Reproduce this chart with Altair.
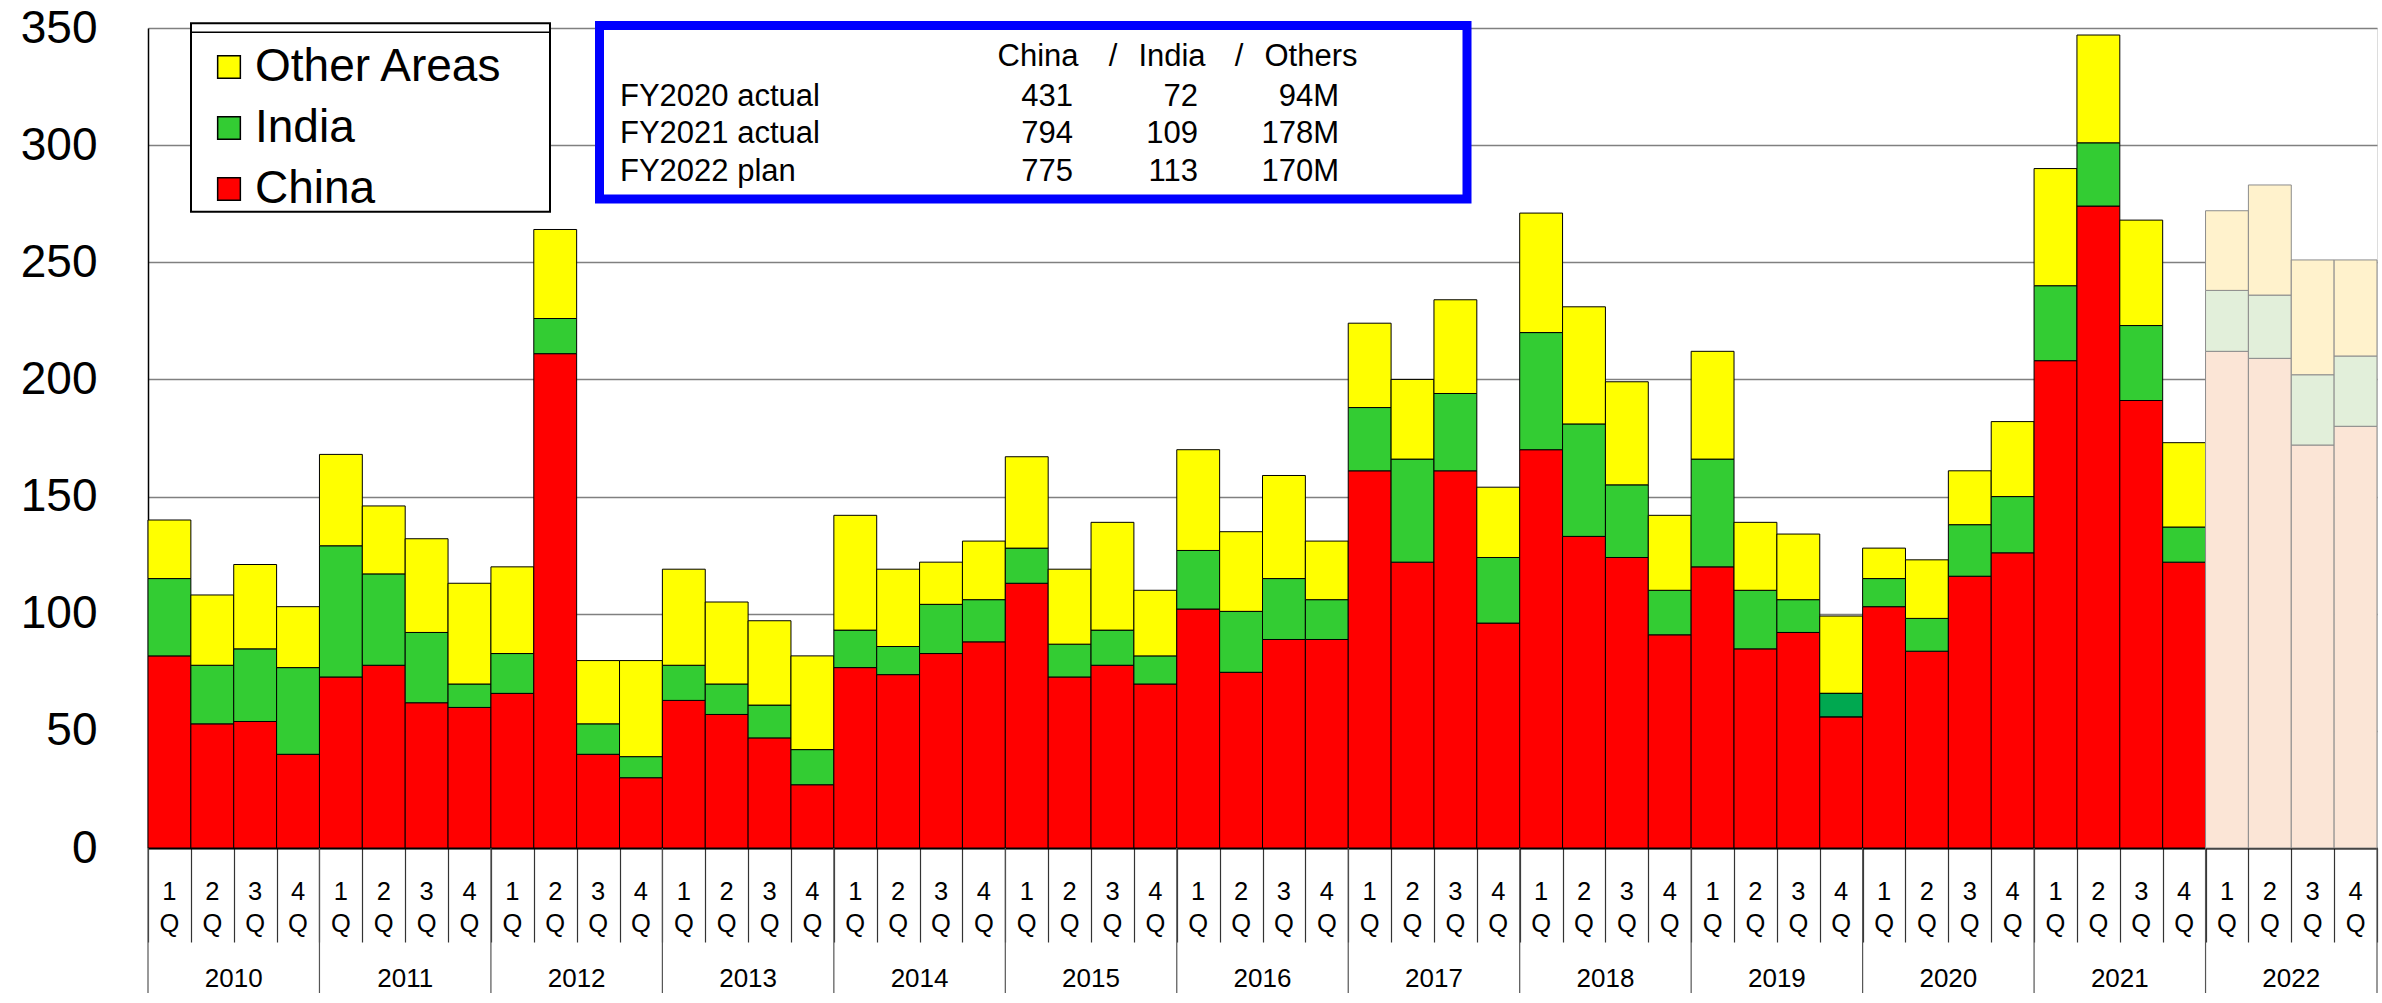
import altair as alt
import pandas as pd

# ---------------- data ----------------
years = [str(y) for y in range(2010, 2023)]
quarters = ["1", "2", "3", "4"]
series_order = ["China", "India", "Other Areas"]
legend_order = ["Other Areas", "India", "China"]

china = [82, 53, 54, 40, 73, 78, 62, 60, 66, 211, 40, 30, 63, 57, 47, 27,
         77, 74, 83, 88, 113, 73, 78, 70, 102, 75, 89, 89, 161, 122, 161, 96,
         170, 133, 124, 91, 120, 85, 92, 56, 103, 84, 116, 126, 208, 274, 191, 122,
         212, 209, 172, 180]
india = [33, 25, 31, 37, 56, 39, 30, 10, 17, 15, 13, 9, 15, 13, 14, 15,
         16, 12, 21, 18, 15, 14, 15, 12, 25, 26, 26, 17, 27, 44, 33, 28,
         50, 48, 31, 19, 46, 25, 14, 10, 12, 14, 22, 24, 32, 27, 32, 15,
         26, 27, 30, 30]
others = [25, 30, 36, 26, 39, 29, 40, 43, 37, 38, 27, 41, 41, 35, 36, 40,
          49, 33, 18, 25, 39, 32, 46, 28, 43, 34, 44, 25, 36, 34, 40, 30,
          51, 50, 44, 32, 46, 29, 28, 33, 13, 25, 23, 32, 50, 46, 45, 36,
          34, 47, 49, 41]

plan_year = "2022"
special_year, special_quarter, special_series = "2019", "4", "India"

table_header = ["China", "/", "India", "/", "Others"]
table_rows = ["FY2020 actual", "FY2021 actual", "FY2022 plan"]
table_china = ["431", "794", "775"]
table_india = ["72", "109", "113"]
table_others = ["94M", "178M", "170M"]

# ---------------- styles ----------------
FONT = "Liberation Sans"
actual_colors = {"China": "#FF0000", "India": "#33CC33", "Other Areas": "#FFFF00"}
plan_colors = {"China": "#FBE5D6", "India": "#E2EFDA", "Other Areas": "#FFF2CC"}
special_color = "#00A850"

W, H = 2229, 820
PAD_L, PAD_T, PAD_R, PAD_B = 148, 28, 5, 155

# ---------------- tables ----------------
rows = []
for k in range(len(china)):
    yr = years[k // 4]
    q = quarters[k % 4]
    base = 0
    for s, vals in zip(series_order, [china, india, others]):
        v = vals[k]
        rows.append(dict(i=k, i2=k + 1, y0=base, y1=base + v, series=s, year=yr, q=q,
                         plan=(yr == plan_year),
                         special=(yr == special_year and q == special_quarter and s == special_series),
                         fc=plan_colors[s] if yr == plan_year else actual_colors[s]))
        base += v
df = pd.DataFrame(rows)
df_actual = df[~df["plan"]]
df_plan = df[df["plan"]]
df_special = df[df["special"]]

df_q = pd.DataFrame({"c": [k + 0.5 for k in range(len(china))],
                     "q": [quarters[k % 4] for k in range(len(china))],
                     "qq": ["Q"] * len(china)})
df_y = pd.DataFrame({"c": [4 * j + 2 for j in range(len(years))], "year": years})
df_b = pd.DataFrame({"b": [4 * j for j in range(len(years) + 1)]})

xs = alt.Scale(domain=[0, len(china)], nice=False, zero=False)
ys = alt.Scale(domain=[0, 350], nice=False)

x_axis = alt.Axis(values=list(range(len(china) + 1)), labels=False, tickSize=94,
                  tickColor="#333333", tickWidth=1.2, domainColor="black", domainWidth=2,
                  grid=False, title=None)
y_axis = alt.Axis(values=list(range(0, 351, 50)), labelFontSize=46, labelFont=FONT,
                  labelColor="black", labelPadding=51, tickSize=0, grid=True,
                  gridColor="#808080", gridWidth=1.5, domainColor="black",
                  domainWidth=1.5, title=None)

actual = alt.Chart(df_actual).mark_bar(stroke="black", strokeWidth=1).encode(
    x=alt.X("i:Q", scale=xs, axis=x_axis),
    x2="i2:Q",
    y=alt.Y("y0:Q", scale=ys, axis=y_axis),
    y2="y1:Q",
    color=alt.Color("series:N",
                    scale=alt.Scale(domain=legend_order,
                                    range=[actual_colors[s] for s in legend_order]),
                    legend=alt.Legend(orient="none", legendX=58, legendY=16, title=None,
                                      labelFontSize=46, labelFont=FONT, labelColor="black",
                                      symbolType="square", symbolSize=515,
                                      symbolStrokeColor="black", symbolStrokeWidth=1.5,
                                      symbolOpacity=1, rowPadding=15, labelOffset=3,
                                      padding=0, labelLimit=500)),
)

plan = alt.Chart(df_plan).mark_bar(stroke="#8c8c8c", strokeWidth=1).encode(
    x=alt.X("i:Q", scale=xs), x2="i2:Q",
    y=alt.Y("y0:Q", scale=ys), y2="y1:Q",
    fill=alt.Fill("fc:N", scale=None),
)

special = alt.Chart(df_special).mark_bar(stroke="black", strokeWidth=1, fill=special_color).encode(
    x=alt.X("i:Q", scale=xs), x2="i2:Q",
    y=alt.Y("y0:Q", scale=ys), y2="y1:Q",
)

q_digits = alt.Chart(df_q).mark_text(font=FONT, fontSize=25.5, baseline="alphabetic",
                                     align="center", color="black").encode(
    x=alt.X("c:Q", scale=xs), y=alt.value(872), text="q:N")
q_letters = alt.Chart(df_q).mark_text(font=FONT, fontSize=25.5, baseline="alphabetic",
                                      align="center", color="black").encode(
    x=alt.X("c:Q", scale=xs), y=alt.value(904), text="qq:N")
year_text = alt.Chart(df_y).mark_text(font=FONT, fontSize=26, baseline="alphabetic",
                                      align="center", color="black").encode(
    x=alt.X("c:Q", scale=xs), y=alt.value(959), text="year:N")
year_sep = alt.Chart(df_b).mark_rule(stroke="#555555", strokeWidth=1.2).encode(
    x=alt.X("b:Q", scale=xs), y=alt.value(H), y2=alt.value(965))

one = pd.DataFrame({"a": [0]})

legend_frame = alt.Chart(one).mark_rect(fill="white", stroke="black", strokeWidth=2).encode(
    x=alt.value(43), x2=alt.value(402), y=alt.value(-4.7), y2=alt.value(183.7))
legend_line = alt.Chart(one).mark_rule(stroke="black", strokeWidth=1.5).encode(
    x=alt.value(43), x2=alt.value(402), y=alt.value(4.3))

blue_box = alt.Chart(one).mark_rect(fill="white", stroke="#0000FF", strokeWidth=9).encode(
    x=alt.value(451.5), x2=alt.value(1319), y=alt.value(-2.5), y2=alt.value(171))

text_layers = []


def txt(s, x, y, align):
    return alt.Chart(pd.DataFrame({"t": [s]})).mark_text(
        font=FONT, fontSize=31, baseline="alphabetic", align=align, color="black"
    ).encode(x=alt.value(x), y=alt.value(y), text="t:N")


header_x = [890, 965, 1024, 1091, 1163]
for s, x in zip(table_header, header_x):
    text_layers.append(txt(s, x, 38, "center"))
row_y = [77.7, 115.3, 152.7]
for r, yv in enumerate(row_y):
    text_layers.append(txt(table_rows[r], 472, yv, "left"))
    text_layers.append(txt(table_china[r], 925, yv, "right"))
    text_layers.append(txt(table_india[r], 1050, yv, "right"))
    text_layers.append(txt(table_others[r], 1191, yv, "right"))

chart = alt.layer(
    actual, plan, special, year_sep, q_digits, q_letters, year_text,
    legend_frame, legend_line, blue_box, *text_layers
).properties(
    width=W, height=H, autosize="none",
    padding={"left": PAD_L, "top": PAD_T, "right": PAD_R, "bottom": PAD_B},
    background="white",
).configure_view(stroke="#808080", strokeWidth=1.5).configure(font=FONT)

chart.save("out.html", embed_options={"renderer": "svg", "actions": False})
